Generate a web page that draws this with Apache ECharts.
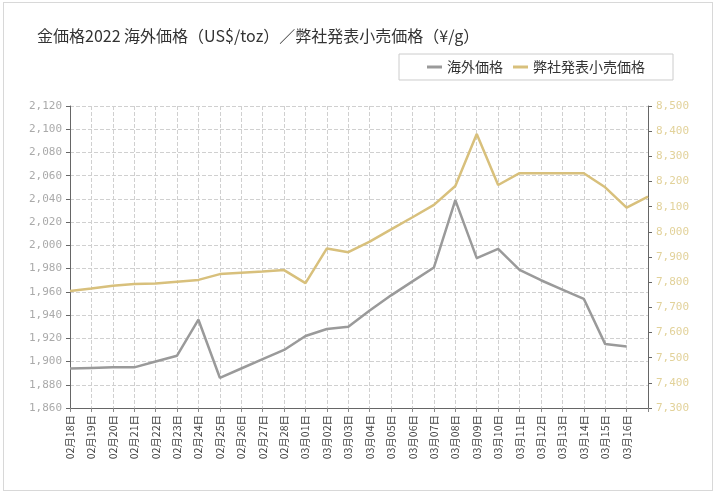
<!DOCTYPE html>
<html><head><meta charset="utf-8">
<script src="https://cdn.jsdelivr.net/npm/echarts@6/dist/echarts.min.js"></script>
<style>html,body{margin:0;padding:0;background:#fff}#c{width:718px;height:494px}
#frame{position:absolute;left:3px;top:2px;width:708px;height:487px;border:1px solid #d8d8d8;pointer-events:none}</style>
</head><body><div id="c"></div><div id="frame"></div>
<script>
const categories = ['02月18日','02月19日','02月20日','02月21日','02月22日','02月23日','02月24日','02月25日','02月26日','02月27日','02月28日','03月01日','03月02日','03月03日','03月04日','03月05日','03月06日','03月07日','03月08日','03月09日','03月10日','03月11日','03月12日','03月13日','03月14日','03月15日','03月16日',''];
const overseasPrice = [1894,1894.5,1895,1895,1900,1905,1936,1886,1894,1902,1910,1922,1928,1930,1944,1957,1969,1981,2039,1989,1997,1979,1970,1962,1954,1915,1913,null];
const retailPrice = [7765,7775,7786,7793,7795,7802,7809,7832,7837,7842,7848,7796,7934,7919,7961,8010,8058,8107,8182,8389,8186,8233,8233,8233,8233,8177,8096,8140];
const leftTicks = {min:1860,max:2120,interval:20};
const rightTicks = {min:7300,max:8500,interval:100};

const chart = echarts.init(document.getElementById('c'));
const fontMono = 'DejaVu Sans Mono';
chart.setOption({
  animation:false,
  title:{text:'金価格2022 海外価格（US$/toz）／弊社発表小売価格（¥/g）',left:32,top:23,
    textStyle:{fontFamily:'Noto Sans CJK JP',fontSize:16,fontWeight:'normal',color:'#333'}},
  legend:{right:45,top:54,padding:[6,28,6,28],borderColor:'#ccc',borderWidth:1,itemGap:10,
    itemWidth:15,itemHeight:3,icon:'rect',
    textStyle:{fontFamily:'Noto Sans CJK JP',fontSize:14,color:'#333'},
    data:['海外価格','弊社発表小売価格']},
  grid:{left:70,right:70,top:106,bottom:86},
  xAxis:{type:'category',data:categories,boundaryGap:false,
    axisLine:{lineStyle:{color:'#666'}},
    axisTick:{show:true,length:4,lineStyle:{color:'#888'}},
    axisLabel:{rotate:90,interval:0,fontSize:10.5,color:'#444',fontFamily:'Noto Sans CJK JP',margin:7},
    splitLine:{show:true,lineStyle:{type:'dashed',color:'#d0d0d0'}}},
  yAxis:[
    {type:'value',min:leftTicks.min,max:leftTicks.max,interval:leftTicks.interval,position:'left',
     axisLine:{show:true,lineStyle:{color:'#666'}},axisTick:{show:true,length:4},
     axisLabel:{color:'#aaa',fontSize:11,fontFamily:fontMono,formatter:v=>v.toLocaleString('en-US')},
     splitLine:{show:true,lineStyle:{type:'dashed',color:'#d0d0d0'}}},
    {type:'value',min:rightTicks.min,max:rightTicks.max,interval:rightTicks.interval,position:'right',
     axisLine:{show:true,lineStyle:{color:'#666'}},axisTick:{show:true,length:4},
     axisLabel:{color:'#e2d29a',fontSize:11,fontFamily:fontMono,formatter:v=>v.toLocaleString('en-US')},
     splitLine:{show:false}}
  ],
  series:[
    {name:'海外価格',type:'line',data:overseasPrice,yAxisIndex:0,symbol:'none',
     lineStyle:{color:'#9a9a9a',width:2.5},itemStyle:{color:'#9a9a9a'}},
    {name:'弊社発表小売価格',type:'line',data:retailPrice,yAxisIndex:1,symbol:'none',
     lineStyle:{color:'#d8c07c',width:2.5},itemStyle:{color:'#d8c07c'}}
  ]
});
</script></body></html>
